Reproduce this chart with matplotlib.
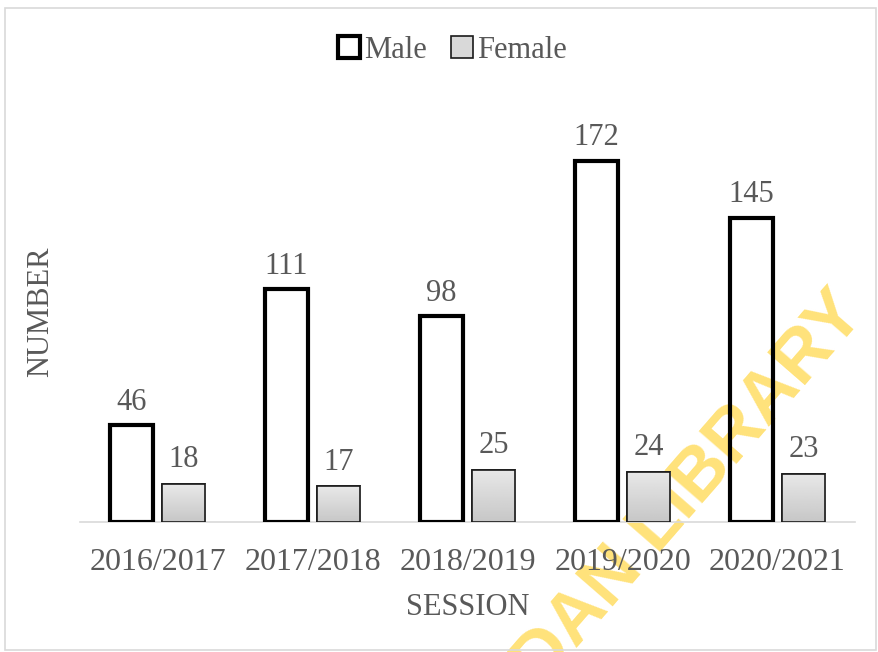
import matplotlib
matplotlib.use("Agg")
import matplotlib.pyplot as plt
import numpy as np
from matplotlib.patches import Rectangle

sessions = ["2016/2017", "2017/2018", "2018/2019", "2019/2020", "2020/2021"]
male = [46, 111, 98, 172, 145]
female = [18, 17, 25, 24, 23]

plt.rcParams['font.family'] = ['Liberation Serif', 'DejaVu Serif']
txt = '#595959'

fig = plt.figure(figsize=(8.79, 6.52), dpi=100)
fig.patches.append(Rectangle((5/879, 2/652), 871/879, 642/652, transform=fig.transFigure,
                             fill=False, edgecolor='#d9d9d9', linewidth=1.2))

fig.text(852/879, 1 - 302/652, 'UNIVERSITY OF IBADAN LIBRARY', rotation=49, rotation_mode='anchor',
         ha='right', va='center', fontsize=52, fontweight='bold', family='Liberation Sans',
         color='#FFE27A', zorder=-1)

ax = fig.add_axes([80/879, (652-522)/652, 775/879, 420/652])
ax.set_facecolor('none')
x = np.arange(len(sessions))
w = 0.28
off = 0.167
mb = ax.bar(x - off, male, w, facecolor='none', edgecolor='black', linewidth=3, zorder=3,
            label='Male')
fb = ax.bar(x + off, female, w, facecolor='#d9d9d9', edgecolor='#1a1a1a', linewidth=1.2, zorder=3,
            label='Female')

grad = np.linspace(0.78, 0.91, 64).reshape(-1, 1)
for b in fb:
    im = ax.imshow(grad, cmap='gray', vmin=0, vmax=1, aspect='auto',
                   extent=[b.get_x(), b.get_x() + b.get_width(), 0, b.get_height()],
                   zorder=3.5, origin='lower')
    im.set_clip_path(b)
    ax.add_patch(Rectangle((b.get_x(), 0), b.get_width(), b.get_height(), fill=False,
                           edgecolor='#1a1a1a', linewidth=1.2, zorder=4))

for xi, v in zip(x, male):
    ax.annotate(str(v), (xi - off, v), xytext=(0, 6), textcoords='offset points',
                ha='center', va='bottom', fontsize=22, color=txt)
for xi, v in zip(x, female):
    ax.annotate(str(v), (xi + off, v), xytext=(0, 7), textcoords='offset points',
                ha='center', va='bottom', fontsize=22, color=txt)

ax.set_xlim(-0.5, 4.5)
ax.set_ylim(0, 200)
ax.set_yticks([])
ax.set_xticks(x)
ax.set_xticklabels(sessions, fontsize=23, color=txt)
ax.tick_params(axis='x', length=0, pad=19)
for s in ['top', 'right', 'left']:
    ax.spines[s].set_visible(False)
ax.spines['bottom'].set_color('#d9d9d9')
ax.spines['bottom'].set_linewidth(1.2)
ax.set_xlabel('SESSION', fontsize=22, color=txt, labelpad=11)
ax.set_ylabel('NUMBER', fontsize=22, color=txt, labelpad=18)

leg = fig.legend(handles=[mb, fb], loc='center', bbox_to_anchor=(0.515, 1 - 50/652), ncol=2,
                 frameon=False, fontsize=22, handlelength=0.7, handleheight=0.7,
                 handletextpad=0.15, columnspacing=0.8, labelcolor=txt)

fig.savefig('out.png', dpi=100)
